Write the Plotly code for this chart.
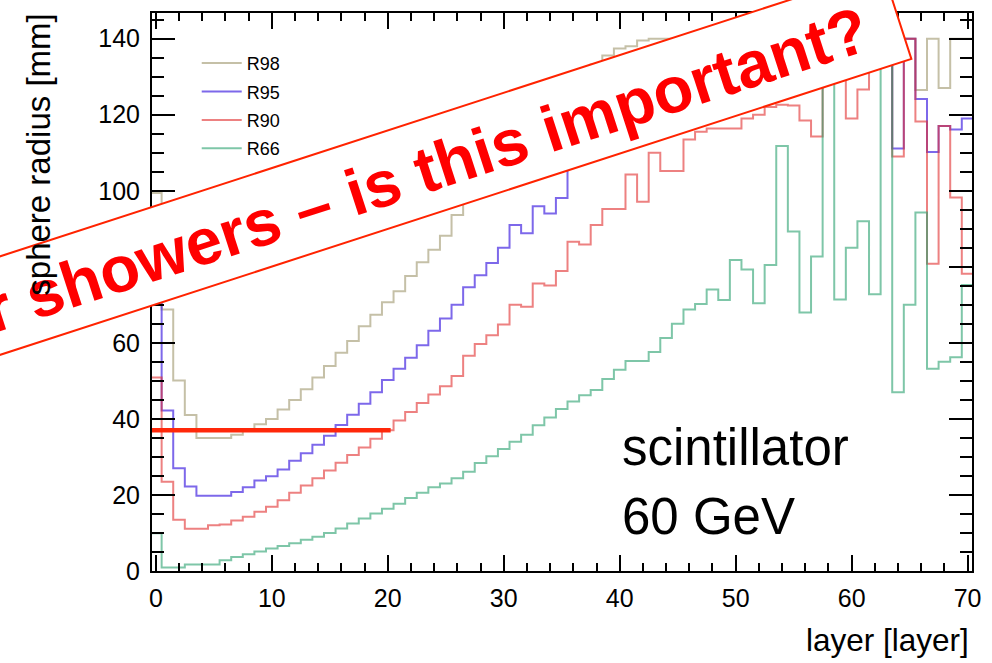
import math
import plotly.graph_objects as go

# ---------------- data ----------------
layers = list(range(71))

r98 = [99.4, 68.8, 50.1, 41.0, 35.0, 35.0, 35.0, 35.8, 37.2, 38.6,
       40.0, 42.5, 45.0, 47.8, 50.9, 53.9, 57.4, 60.5, 64.4, 67.4,
       70.7, 73.6, 77.6, 81.2, 84.5, 88.2, 93.6, 98.0, 101.5, 105.0,
       108.2, 111.3, 114.6, 118.0, 121.0, 124.2, 127.3, 130.2, 133.2, 135.6,
       137.4, 138.0, 139.5, 140.0, 140.0, 140.0, 140.0, 140.0, 140.0, 140.0,
       140.0, 140.0, 140.0, 140.0, 140.0, 140.0, 140.0, 140.0, 140.0, 140.0,
       140.0, 140.0, 140.0, 140.0, 136.0, 140.0, 126.5, 140.0, 127.0, 140.0,
       140.0]

r95 = [88.0, 42.2, 27.0, 22.2, 19.8, 19.8, 19.8, 20.8, 22.0, 23.8,
       24.9, 26.7, 29.0, 31.0, 33.2, 35.6, 38.4, 41.1, 44.0, 47.0,
       50.2, 53.2, 56.1, 59.4, 63.2, 66.4, 70.0, 74.6, 77.8, 81.0,
       85.0, 91.0, 88.8, 95.9, 94.0, 98.1, 107.0, 110.0, 113.5, 117.0,
       119.0, 122.0, 121.0, 125.0, 124.5, 126.5, 128.0, 129.0, 130.0, 130.5,
       131.0, 132.0, 133.0, 134.0, 135.0, 136.0, 134.5, 133.5, 140.0, 140.0,
       135.0, 137.0, 140.0, 140.0, 111.1, 140.0, 124.1, 110.2, 117.0, 116.1,
       119.0]

r90 = [50.9, 23.5, 13.5, 11.1, 11.1, 12.0, 12.2, 13.3, 14.3, 15.6,
       16.9, 18.6, 20.6, 22.5, 24.4, 26.4, 28.5, 30.5, 32.5, 34.8,
       37.0, 39.6, 41.8, 44.2, 46.4, 48.6, 51.3, 56.6, 59.7, 62.0,
       64.8, 70.0, 69.5, 75.6, 75.1, 78.9, 86.6, 85.9, 91.0, 95.2,
       95.2, 104.3, 97.1, 110.0, 105.2, 105.2, 113.5, 115.5, 116.4, 116.4,
       116.4, 119.0, 120.0, 122.0, 122.6, 122.4, 118.5, 114.3, 134.0, 134.0,
       119.0, 126.6, 136.0, 140.0, 109.0, 140.0, 118.2, 80.8, 117.0, 98.2,
       78.2]

r66 = [9.9, 0.9, 0.9, 1.7, 1.7, 1.7, 2.8, 3.7, 4.4, 5.1,
       5.9, 6.6, 7.3, 8.2, 9.0, 10.0, 11.2, 12.5, 13.8, 15.1,
       16.4, 17.7, 19.2, 20.6, 22.0, 23.0, 24.4, 26.1, 28.4, 30.2,
       32.1, 34.0, 35.8, 38.3, 40.4, 42.6, 44.6, 46.2, 47.6, 50.5,
       52.9, 55.2, 55.2, 57.6, 61.3, 65.0, 68.8, 70.2, 74.0, 71.3,
       81.8, 79.3, 70.4, 80.5, 111.8, 89.3, 68.0, 82.7, 140.0, 71.4,
       85.0, 92.0, 72.8, 140.0, 47.0, 70.0, 94.3, 53.2, 55.0, 56.2,
       75.2]

series_names = ["R98", "R95", "R90", "R66"]
series_values = [r98, r95, r90, r66]
series_colors = ["rgba(150,140,95,0.55)", "rgba(70,40,225,0.70)",
                 "rgba(225,45,45,0.60)", "rgba(40,160,110,0.60)"]

threshold_value = 37.0      # horizontal marker (mm)
threshold_end_layer = 20.25

x_ticks = list(range(0, 71, 10))
y_ticks = list(range(0, 141, 20))

FONT = "Liberation Sans, Arial, Helvetica, sans-serif"

# ---------------- figure ----------------
W, H = 992, 663
L, R, T, B = 152, 15, 11, 92
PW, PH = W - L - R, H - T - B

def px2paper(px, py):
    return (px - L) / PW, (H - B - py) / PH

fig = go.Figure()

edges = [l - 0.5 for l in layers] + [layers[-1] + 0.5]
for name, vals, col in zip(series_names, series_values, series_colors):
    fig.add_trace(go.Scatter(
        x=edges, y=list(vals) + [vals[-1]],
        mode="lines", line=dict(shape="hv", color=col, width=2),
        name=name, legendgroup=name,
    ))

axis_common = dict(
    showline=True, linecolor="black", linewidth=2, mirror="ticks",
    ticks="inside", tickcolor="black", tickwidth=2,
    showgrid=False, zeroline=False,
    tickfont=dict(family=FONT, size=25, color="black"),
)
fig.update_xaxes(range=[-0.33, 70.38], tickvals=x_ticks, ticklen=16,
                 minor=dict(dtick=2, tick0=0, ticklen=8, tickwidth=2,
                            tickcolor="black", ticks="inside"),
                 ticklabelstandoff=4, **axis_common)
fig.update_yaxes(range=[0, 146.75], tickvals=y_ticks, ticklen=23,
                 minor=dict(dtick=5, tick0=0, ticklen=12, tickwidth=2,
                            tickcolor="black", ticks="inside"),
                 ticklabelstandoff=5, **axis_common)

# threshold line
fig.add_shape(type="line", xref="x", yref="y",
              x0=-0.33, x1=threshold_end_layer, y0=threshold_value, y1=threshold_value,
              line=dict(color="rgb(255,40,10)", width=4.5), layer="above")

# banner (rotated white box with red border)
slope = 0.324
ang = math.atan(slope)
lr = (916.0, 57.0)                       # lower-right corner
hgt = 94.0                               # perpendicular height
ur = (lr[0] - hgt * math.sin(ang), lr[1] - hgt * math.cos(ang))
ll = (-80.0, lr[1] + (lr[0] + 80.0) * slope)
ul = (ll[0] - hgt * math.sin(ang), ll[1] - hgt * math.cos(ang))
pts = [px2paper(*p) for p in (ll, lr, ur, ul)]
path = "M " + " L ".join(f"{x:.5f},{y:.5f}" for x, y in pts) + " Z"
fig.add_shape(type="path", xref="paper", yref="paper", path=path,
              fillcolor="white", line=dict(color="rgb(255,35,0)", width=2),
              layer="above")

cx, cy = px2paper(428.0, 168.5)
fig.add_annotation(xref="paper", yref="paper", x=cx, y=cy,
                   text="r showers \u2013 is this important?",
                   textangle=-math.degrees(ang), showarrow=False,
                   xanchor="center", yanchor="middle",
                   font=dict(family=FONT, size=65, color="rgb(255,0,0)", weight="bold"))

# in-plot labels
for txt, py in (("scintillator", 447), ("60 GeV", 516)):
    ax_, ay_ = px2paper(623, py)
    fig.add_annotation(xref="paper", yref="paper", x=ax_, y=ay_, text=txt,
                       showarrow=False, xanchor="left", yanchor="middle",
                       font=dict(family=FONT, size=51, color="black"))

# axis titles (ROOT style: aligned to the axis end)
tx, ty = px2paper(976, 640)
fig.add_annotation(xref="paper", yref="paper", x=tx, y=ty, text="layer [layer]",
                   showarrow=False, xanchor="right", yanchor="middle",
                   font=dict(family=FONT, size=31.5, color="black"))
yx, yy = px2paper(37, 10)
fig.add_annotation(xref="paper", yref="paper", x=yx, y=yy, text="sphere radius [mm]",
                   textangle=-90, showarrow=False, xanchor="center", yanchor="top",
                   font=dict(family=FONT, size=33, color="black"))

lx, ly = px2paper(197, 43)
fig.update_layout(
    width=W, height=H, margin=dict(l=L, r=R, t=T, b=B),
    paper_bgcolor="white", plot_bgcolor="white",
    showlegend=True,
    legend=dict(x=lx, y=ly, xanchor="left", yanchor="top",
                bgcolor="rgba(0,0,0,0)", borderwidth=0,
                font=dict(family=FONT, size=18, color="black"),
                itemwidth=40,
                tracegroupgap=2, traceorder="grouped"),
)

fig.write_html("out.html")
